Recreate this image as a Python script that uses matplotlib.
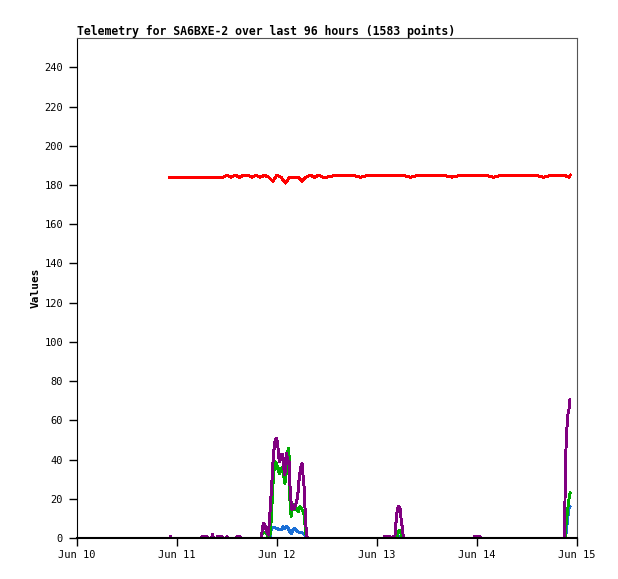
import pandas as pd
import matplotlib
matplotlib.use('Agg')
import matplotlib.pyplot as plt
import matplotlib.dates as mdates

# Telemetry values, time given as hours after Jun 10 00:00
start = pd.Timestamp('2024-06-10')

red_hours = [22.3, 24, 26, 28, 30, 32, 34, 35, 36, 37, 38, 39, 40, 41, 42, 43, 44, 45,
             46, 47, 48, 49, 50, 51, 52, 53, 54, 55, 56, 57, 58, 59, 60, 62, 64, 66,
             68, 70, 72, 74, 76, 78, 80, 82, 84, 86, 88, 90, 92, 94, 96, 98, 100, 102,
             104, 106, 108, 110, 112, 114, 116, 117, 118, 118.4]
red_vals = [184, 184, 184, 184, 184, 184, 184, 184, 185, 184, 185, 184, 185, 185, 184, 185, 184, 185,
            184, 182, 185, 184, 181, 184, 184, 184, 182, 184, 185, 184, 185, 184, 184, 185, 185, 185,
            184, 185, 185, 185, 185, 185, 184, 185, 185, 185, 185, 184, 185, 185, 185, 185, 184, 185,
            185, 185, 185, 185, 184, 185, 185, 185, 184, 185]

black_hours = [22.3, 118.4]
black_vals = [0, 0]

purple_hours = [22.3, 22.4, 22.6, 29.9, 30.0, 31.2, 31.3, 32.3, 32.5, 32.7, 33.7, 33.8, 34.8, 34.9,
                35.9, 36.0, 36.1, 38.3, 38.4, 39.1, 39.2,
                44.1, 44.3, 44.7, 45.1, 45.5, 45.9, 46.2, 46.5, 46.9, 47.1, 47.4, 47.6, 47.9, 48.2,
                48.3, 48.6, 48.7, 49.0, 49.2, 49.4, 49.6, 49.8, 50.1, 50.3, 50.6, 50.9, 51.1, 51.4,
                51.6, 51.9, 52.2, 52.4, 52.7, 53.0, 53.2, 53.5, 53.8, 54.0, 54.2, 54.5, 54.7, 55.0,
                55.1, 55.3, 55.5,
                73.8, 73.9, 75.1, 75.2, 76.3, 76.7, 77.1, 77.3, 77.6, 77.8, 78.2, 78.3, 78.5,
                95.4, 95.5, 96.7, 96.8,
                116.9, 117.0, 117.2, 117.4, 117.5, 117.8, 118.1, 118.3]
purple_vals = [0, 1, 0, 0, 1, 1, 0, 0, 2, 0, 0, 1, 1, 0,
               0, 1, 0, 0, 1, 1, 0,
               0, 1.5, 7.5, 6.6, 3.2, 1.5, 9.2, 19.4, 33, 41.5, 47.5, 50, 51, 47.5,
               43.2, 39, 41.5, 42.4, 39.8, 42.4, 36.4, 32.2, 34.7, 43.2, 38.1, 39, 27, 17.7,
               14.3, 16.8, 15.1, 16.8, 18.5, 22, 27.9, 33, 37.3, 38.1, 33, 26.2, 16, 4,
               1, 0, 0,
               0, 1, 1, 0, 1, 11.7, 16, 16, 14.3, 9.2, 3.2, 0.5, 0,
               0, 1, 1, 0,
               0, 1, 32, 49, 53.5, 62.8, 66, 70.5]

green_hours = [44.2, 44.4, 45.0, 45.6, 45.8, 46.3, 46.6, 47.1, 47.5, 47.9, 48.3, 48.6, 48.8, 49.1,
               49.4, 49.7, 49.9, 50.2, 50.5, 50.7, 51.0, 51.1, 51.4, 51.6, 51.9, 52.3, 52.7,
               53.1, 53.5, 53.9, 54.3, 54.6, 54.8, 55.1,
               76.6, 76.8, 77.1, 77.4, 77.7, 78.0,
               117.1, 117.4, 117.8, 118.2, 118.4]
green_vals = [0, 2, 3, 2, 0, 1, 9, 30, 39, 38, 34.7, 33, 35.6, 33.9,
              36.4, 30.5, 27.9, 33, 41.5, 45.8, 39.8, 19.4, 10.9, 17.7, 15.1, 14.3, 15.1,
              13.4, 16, 15.1, 13.4, 10.9, 4, 0,
              0, 1, 3, 4, 3, 0,
              0, 7.5, 15.1, 22, 23]

blue_hours = [46.4, 46.6, 46.9, 47.5, 47.9, 48.3, 48.7, 49.1, 49.5, 49.9, 50.3, 50.7, 51.1,
              51.5, 51.8, 52.2, 52.6, 53.0, 53.4, 53.9, 54.3, 54.8, 55.1,
              77.2, 77.4, 77.7,
              117.1, 117.4, 117.7, 118.1, 118.3]
blue_vals = [0, 4.5, 5.3, 5.3, 4.9, 4.5, 4.1, 4.1, 5.8, 4.9, 5.8, 4.9, 3.2,
             2.4, 4.1, 4.9, 4.1, 3.2, 2.7, 2.7, 2.4, 1.5, 0,
             0, 1, 0,
             0, 2.4, 9.2, 15.1, 16]


def to_time(hours):
    return start + pd.to_timedelta(hours, unit='h')


plt.rcParams['lines.antialiased'] = False
mono = 'DejaVu Sans Mono'

fig = plt.figure(figsize=(6.18, 5.79), dpi=100)
ax = fig.add_axes([77 / 618, 41 / 579, 500 / 618, 500 / 579])

lw = 1.4
ax.plot(to_time(black_hours), black_vals, color='black', lw=lw)
ax.plot(to_time(blue_hours), blue_vals, color='#1a6fd6', lw=lw)
ax.plot(to_time(green_hours), green_vals, color='#00aa00', lw=lw)
ax.plot(to_time(purple_hours), purple_vals, color='#800080', lw=lw)
ax.plot(to_time(red_hours), red_vals, color='#ff0000', lw=lw)

ax.set_xlim(start, start + pd.Timedelta(days=5))
ax.set_ylim(0, 255)
ax.set_yticks(range(0, 241, 20))
ax.xaxis.set_major_locator(mdates.DayLocator())
ax.xaxis.set_major_formatter(mdates.DateFormatter('%b %d'))

ax.tick_params(axis='both', direction='out', length=6, width=1, color='black',
               labelsize=7.5)
for lbl in ax.get_xticklabels() + ax.get_yticklabels():
    lbl.set_family(mono)
ax.tick_params(axis='x', pad=3)
ax.tick_params(axis='y', pad=4)

ax.spines['left'].set_color('black')
ax.spines['bottom'].set_color('black')
ax.spines['bottom'].set_linewidth(1.5)
ax.spines['top'].set_color('#555555')
ax.spines['right'].set_color('#555555')

ax.set_ylabel('Values', family=mono, fontweight='bold', fontsize=8, labelpad=3)
ax.set_title('Telemetry for SA6BXE-2 over last 96 hours (1583 points)', loc='left',
             family=mono, fontweight='bold', fontsize=8.3, pad=2)

fig.savefig('out.png', dpi=100)
